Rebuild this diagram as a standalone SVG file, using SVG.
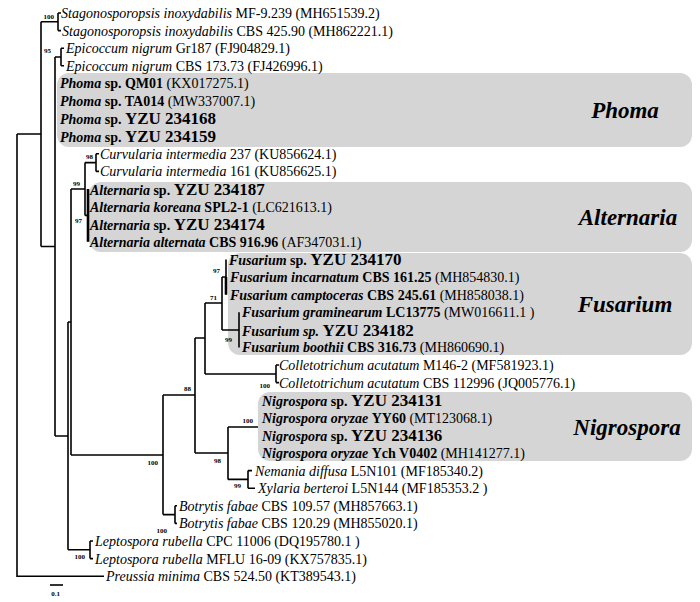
<svg xmlns="http://www.w3.org/2000/svg" width="700" height="602" viewBox="0 0 700 602">
<style>
text{font-family:"Liberation Serif","Times New Roman",serif;fill:#000}
.t{font-size:14px}
.i{font-style:italic}
.b{font-weight:bold}
.y{font-size:17px;font-weight:bold}
.bs{font-size:7px;font-weight:bold;text-anchor:end}
.grp{font-size:23px;font-weight:bold;font-style:italic;text-anchor:middle}
.box{fill:#d5d5d5;stroke:none}
.ln{fill:none;stroke:#000;stroke-width:1.6}
.th{fill:none;stroke:#000;stroke-width:2.6}
</style>
<rect width="700" height="602" fill="#fff"/>
<g id="clades">
<g id="clade-phoma"><rect class="box" x="57" y="73" width="635" height="74" rx="12"/><text class="grp" x="625" y="118">Phoma</text></g>
<g id="clade-alternaria"><rect class="box" x="89" y="182" width="603" height="70" rx="12"/><text class="grp" x="628" y="225">Alternaria</text></g>
<g id="clade-fusarium"><rect class="box" x="228" y="253" width="464" height="102" rx="12"/><text class="grp" x="625" y="312">Fusarium</text></g>
<g id="clade-nigrospora"><rect class="box" x="258" y="392" width="434" height="69" rx="12"/><text class="grp" x="627" y="435">Nigrospora</text></g>
</g>
<g id="connectors">
<path class="ln" d="M17,134V576.2H104M17,134H41M41,21.8V246.5M41,21.8H58M58,13V30.6M58,13H61M58,30.6H61"/>
<path class="ln" d="M41,246.5H55M55,57V436M55,57H61M61,48.2V65.8M61,48.2H64M61,65.8H64"/>
<path class="ln" d="M55,436H68M68,322V549.8M68,322H71M71,189V455M71,189H85M85,162.6V215.4M85,162.6H96M96,153.8V171.4M96,153.8H99M96,171.4H99M85,215.4H88"/>
<path class="th" d="M88,189V241.8"/>
<path class="ln" d="M68,549.8H90M90,541V558.6M90,541H93M90,558.6H93"/>
<path class="ln" d="M71,455H163M163,395V514.6M163,514.6H175M175,505.8V523.4M175,505.8H177M175,523.4H177"/>
<path class="ln" d="M163,395H195M195,338V453M195,338H205M205,303V374M205,303H222M222,277V330M222,277H226M226,259.4V294.6M222,330H239M239,312.2V347.4"/>
<path class="th" d="M226,277V294.6"/>
<path class="ln" d="M205,374H276M276,365V382.6M276,365H279M276,382.6H279"/>
<path class="ln" d="M195,453H228M228,427V479.4M228,427H258M228,479.4H248M248,470.6V488.2M248,470.6H252M248,488.2H255"/>
<path class="ln" d="M50,585H63"/>
</g>
<g id="support">
<text class="bs" x="54" y="19">100</text>
<text class="bs" x="51" y="53">95</text>
<text class="bs" x="93" y="159">98</text>
<text class="bs" x="80" y="186">99</text>
<text class="bs" x="82" y="223">97</text>
<text class="bs" x="220" y="273">97</text>
<text class="bs" x="217" y="300">71</text>
<text class="bs" x="232" y="342">99</text>
<text class="bs" x="270" y="388">100</text>
<text class="bs" x="191" y="391">88</text>
<text class="bs" x="253" y="423">100</text>
<text class="bs" x="221" y="463">98</text>
<text class="bs" x="241" y="488">99</text>
<text class="bs" x="158" y="465">100</text>
<text class="bs" x="167" y="533">100</text>
<text class="bs" x="85" y="559">100</text>
<text class="bs" x="60" y="596">0.1</text>
</g>
<g id="taxa">
<g id="n1"><text class="t" x="61" y="18"><tspan class="i">Stagonosporopsis inoxydabilis</tspan> MF-9.239 (MH651539.2)</text></g>
<g id="n2"><text class="t" x="62" y="35.6"><tspan class="i">Stagonosporopsis inoxydabilis</tspan> CBS 425.90 (MH862221.1)</text></g>
<g id="n3"><text class="t" x="66" y="53.2"><tspan class="i">Epicoccum nigrum</tspan> Gr187 (FJ904829.1)</text></g>
<g id="n4"><text class="t" x="66" y="70.8"><tspan class="i">Epicoccum nigrum</tspan> CBS 173.73 (FJ426996.1)</text></g>
<g id="n5"><text class="t" x="60" y="88.4"><tspan class="b i">Phoma</tspan> <tspan class="b">sp. QM01</tspan> (KX017275.1)</text></g>
<g id="n6"><text class="t" x="60" y="106"><tspan class="b i">Phoma</tspan> <tspan class="b">sp. TA014</tspan> (MW337007.1)</text></g>
<g id="n7"><text class="t" x="60" y="124.2"><tspan class="b i">Phoma</tspan> <tspan class="b">sp.</tspan> <tspan class="y">YZU 234168</tspan></text></g>
<g id="n8"><text class="t" x="60" y="142.4"><tspan class="b i">Phoma</tspan> <tspan class="b">sp.</tspan> <tspan class="y">YZU 234159</tspan></text></g>
<g id="n9"><text class="t" x="100" y="158.8"><tspan class="i">Curvularia intermedia</tspan> 237 (KU856624.1)</text></g>
<g id="n10"><text class="t" x="100" y="176.4"><tspan class="i">Curvularia intermedia</tspan> 161 (KU856625.1)</text></g>
<g id="n11"><text class="t" x="90" y="195"><tspan class="b i">Alternaria</tspan> <tspan class="b">sp.</tspan> <tspan class="y">YZU 234187</tspan></text></g>
<g id="n12"><text class="t" x="90" y="211.6"><tspan class="b i">Alternaria koreana</tspan> <tspan class="b">SPL2-1</tspan> (LC621613.1)</text></g>
<g id="n13"><text class="t" x="90" y="230.2"><tspan class="b i">Alternaria</tspan> <tspan class="b">sp.</tspan> <tspan class="y">YZU 234174</tspan></text></g>
<g id="n14"><text class="t" x="90" y="246.8"><tspan class="b i">Alternaria alternata</tspan> <tspan class="b">CBS 916.96</tspan> (AF347031.1)</text></g>
<g id="n15"><text class="t" x="229" y="265.4"><tspan class="b i">Fusarium</tspan> <tspan class="b">sp.</tspan> <tspan class="y">YZU 234170</tspan></text></g>
<g id="n16"><text class="t" x="230" y="282"><tspan class="b i">Fusarium incarnatum</tspan> <tspan class="b">CBS 161.25</tspan> (MH854830.1)</text></g>
<g id="n17"><text class="t" x="230" y="299.6"><tspan class="b i">Fusarium camptoceras</tspan> <tspan class="b">CBS 245.61</tspan> (MH858038.1)</text></g>
<g id="n18"><text class="t" x="242" y="317.2"><tspan class="b i">Fusarium graminearum</tspan> <tspan class="b">LC13775</tspan> (MW016611.1 )</text></g>
<g id="n19"><text class="t" x="242" y="335.8"><tspan class="b i">Fusarium sp.</tspan> <tspan class="y">YZU 234182</tspan></text></g>
<g id="n20"><text class="t" x="242" y="352.4"><tspan class="b i">Fusarium boothii</tspan> <tspan class="b">CBS 316.73</tspan> (MH860690.1)</text></g>
<g id="n21"><text class="t" x="279" y="370"><tspan class="i">Colletotrichum acutatum</tspan> M146-2 (MF581923.1)</text></g>
<g id="n22"><text class="t" x="279" y="387.6"><tspan class="i">Colletotrichum acutatum</tspan> CBS 112996 (JQ005776.1)</text></g>
<g id="n23"><text class="t" x="262" y="406.2"><tspan class="b i">Nigrospora</tspan> <tspan class="b">sp.</tspan> <tspan class="y">YZU 234131</tspan></text></g>
<g id="n24"><text class="t" x="262" y="422.8"><tspan class="b i">Nigrospora oryzae</tspan> <tspan class="b">YY60</tspan> (MT123068.1)</text></g>
<g id="n25"><text class="t" x="262" y="441.4"><tspan class="b i">Nigrospora</tspan> <tspan class="b">sp.</tspan> <tspan class="y">YZU 234136</tspan></text></g>
<g id="n26"><text class="t" x="262" y="458"><tspan class="b i">Nigrospora oryzae</tspan> <tspan class="b">Ych V0402</tspan> (MH141277.1)</text></g>
<g id="n27"><text class="t" x="255" y="475.6"><tspan class="i">Nemania diffusa</tspan> L5N101 (MF185340.2)</text></g>
<g id="n28"><text class="t" x="258" y="493.2"><tspan class="i">Xylaria berteroi</tspan> L5N144 (MF185353.2 )</text></g>
<g id="n29"><text class="t" x="179" y="510.8"><tspan class="i">Botrytis fabae</tspan> CBS 109.57 (MH857663.1)</text></g>
<g id="n30"><text class="t" x="179" y="528.4"><tspan class="i">Botrytis fabae</tspan> CBS 120.29 (MH855020.1)</text></g>
<g id="n31"><text class="t" x="95" y="546"><tspan class="i">Leptospora rubella</tspan> CPC 11006 (DQ195780.1 )</text></g>
<g id="n32"><text class="t" x="95" y="563.6"><tspan class="i">Leptospora rubella</tspan> MFLU 16-09 (KX757835.1)</text></g>
<g id="n33"><text class="t" x="106" y="581.2"><tspan class="i">Preussia minima</tspan> CBS 524.50 (KT389543.1)</text></g>
</g>
</svg>
